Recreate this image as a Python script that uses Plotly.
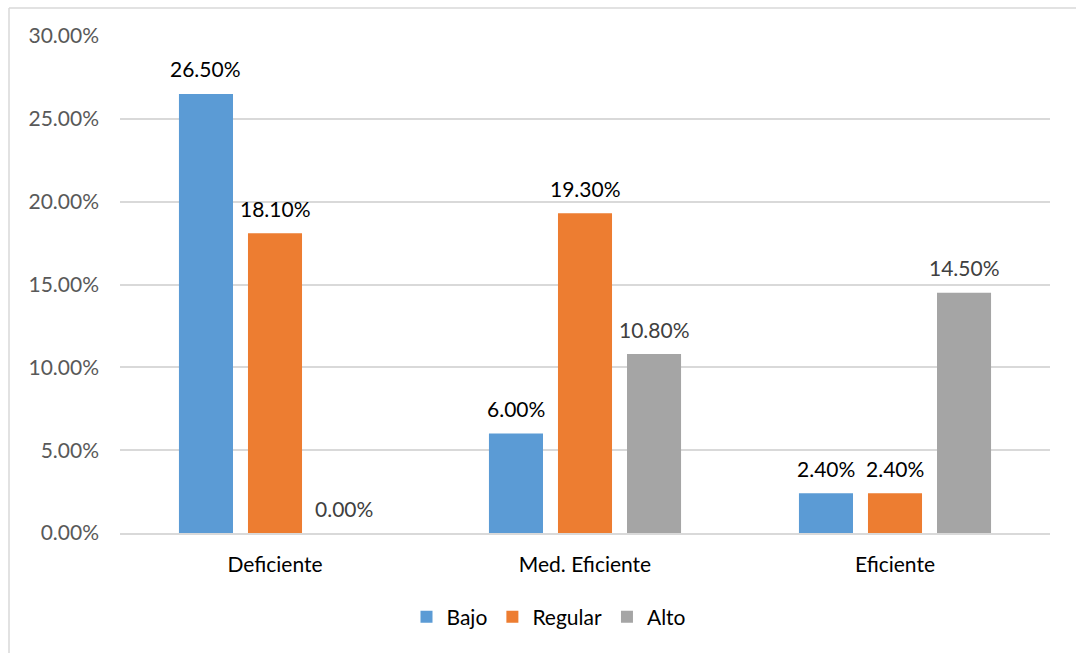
import plotly.graph_objects as go

categories = ["Deficiente", "Med. Eficiente", "Eficiente"]
series_names = ["Bajo", "Regular", "Alto"]
bajo = [26.5, 6.0, 2.4]
regular = [18.1, 19.3, 2.4]
alto = [0.0, 10.8, 14.5]
y_ticks = [0, 5, 10, 15, 20, 25, 30]
y_tick_labels = ["0.00%", "5.00%", "10.00%", "15.00%", "20.00%", "25.00%", "30.00%"]

colors = ["#5B9BD5", "#ED7D31", "#A5A5A5"]
label_colors = ["#000000", "#000000", "#404040"]
FONT = "Lato, Calibri, sans-serif"
FS = 21
W, H = 1076, 653
ML, MR, MT, MB = 120, 26, 36, 120
pw = W - ML - MR
ph = H - MT - MB

bargap = 0.332
fig = go.Figure()
all_series = [bajo, regular, alto]
for name, vals, col in zip(series_names, all_series, colors):
    fig.add_trace(go.Bar(x=categories, y=vals, name=name, marker_color=col,
                         marker_line_width=0, hoverinfo="skip"))

# data labels
cat_w = pw / len(categories)
slot = cat_w * (1 - bargap) / len(all_series)
for i, (vals, lc) in enumerate(zip(all_series, label_colors)):
    shift = (i - (len(all_series) - 1) / 2) * slot
    for c, v in zip(categories, vals):
        fig.add_annotation(x=c, y=v, xref="x", yref="y", text=f"{v:.2f}%",
                           showarrow=False, xshift=shift, yshift=25,
                           font=dict(family=FONT, size=FS, color=lc))

# chart border (left and top)
bx = (9 - ML) / pw
by = 1 + (MT - 8) / ph
fig.add_shape(type="line", xref="paper", yref="paper", x0=bx, x1=bx, y0=by, y1=-MB / ph - 0.01,
              line=dict(color="#D9D9D9", width=1.5))
fig.add_shape(type="line", xref="paper", yref="paper", x0=bx, x1=(W - ML) / pw + 0.01, y0=by, y1=by,
              line=dict(color="#D9D9D9", width=1.5))

fig.update_layout(
    width=W, height=H,
    margin=dict(l=ML, r=MR, t=MT, b=MB),
    plot_bgcolor="white", paper_bgcolor="white",
    barmode="group", bargap=bargap, bargroupgap=0.217,
    font=dict(family=FONT, size=FS, color="#000000"),
    showlegend=True,
    legend=dict(orientation="h", x=(549 - ML) / pw, xanchor="center",
                y=-(617 - (MT + ph)) / ph, yanchor="middle",
                font=dict(family=FONT, size=FS, color="#000000"),
                itemwidth=30, traceorder="normal"),
    xaxis=dict(showgrid=False, showline=True, linecolor="#D9D9D9", linewidth=1.5,
               ticks="", tickfont=dict(family=FONT, size=FS, color="#000000"),
               ticklabelstandoff=12),
    yaxis=dict(range=[0, 30], tickvals=y_ticks, ticktext=y_tick_labels,
               showgrid=True, gridcolor="#D9D9D9", gridwidth=1.5, zeroline=False,
               showline=False, ticks="", ticklabelstandoff=20,
               tickfont=dict(family=FONT, size=FS, color="#595959")),
)
fig.write_html("out.html")
